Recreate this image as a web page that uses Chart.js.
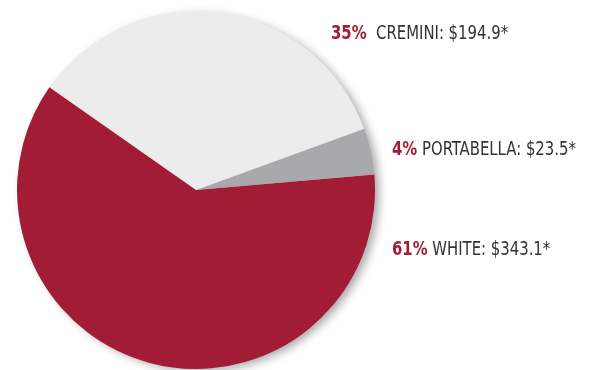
<!DOCTYPE html>
<html>
<head>
    <title>Mushroom Sales</title>
    <script src="https://cdn.jsdelivr.net/npm/chart.js"></script>
    <style>
        body { margin: 0; background: #fff; }
        .wrap { position: relative; width: 592px; height: 370px; }
        .label {
            position: absolute;
            font-family: "Liberation Sans Narrow", "DejaVu Sans Condensed", sans-serif;
            font-size: 19px;
            color: #333;
            white-space: nowrap;
            line-height: 1;
            transform: scaleX(0.87);
            transform-origin: left top;
        }
        .label b { color: #a31c35; }
    </style>
</head>
<body>
    <div class="wrap">
        <canvas id="chart" width="592" height="370"></canvas>
        <div id="labels"></div>
    </div>

    <script>
        const varieties = ['CREMINI', 'PORTABELLA', 'WHITE'];
        const sales = [194.9, 23.5, 343.1];
        const shares = ['35%', '4%', '61%'];
        const colors = ['#ececec', '#a8a9ab', '#a31c35'];

        // circle shadow drawn under the slices, so slices don't shade each other
        const pieShadow = {
            id: 'pieShadow',
            beforeDatasetsDraw(chart) {
                const arc = chart.getDatasetMeta(0).data[0];
                const ctx = chart.ctx;
                ctx.save();
                ctx.shadowColor = 'rgba(0,0,0,0.35)';
                ctx.shadowBlur = 10;
                ctx.shadowOffsetX = 5;
                ctx.shadowOffsetY = 3;
                ctx.fillStyle = '#ffffff';
                ctx.beginPath();
                ctx.arc(arc.x, arc.y, arc.outerRadius - 1, 0, Math.PI * 2);
                ctx.fill();
                ctx.restore();
            }
        };

        new Chart(document.getElementById('chart'), {
            type: 'pie',
            data: {
                labels: varieties,
                datasets: [{
                    data: sales,
                    backgroundColor: colors,
                    borderWidth: 0,
                }],
            },
            options: {
                responsive: false,
                animation: false,
                rotation: -55,
                layout: { padding: { left: 17, right: 217, top: 11, bottom: 1 } },
                plugins: {
                    legend: { display: false },
                    tooltip: { enabled: false },
                },
            },
            plugins: [pieShadow],
        });

        const labelPos = [[331, 23], [392, 139], [392, 239]];
        const labelsDiv = document.getElementById('labels');
        varieties.forEach((name, i) => {
            const div = document.createElement('div');
            div.className = 'label';
            div.style.left = labelPos[i][0] + 'px';
            div.style.top = labelPos[i][1] + 'px';
            div.innerHTML = `<b>${shares[i]}</b>${i === 0 ? '&nbsp; ' : ' '}${name}: $${sales[i].toFixed(1)}*`;
            labelsDiv.appendChild(div);
        });
    </script>
</body>
</html>
